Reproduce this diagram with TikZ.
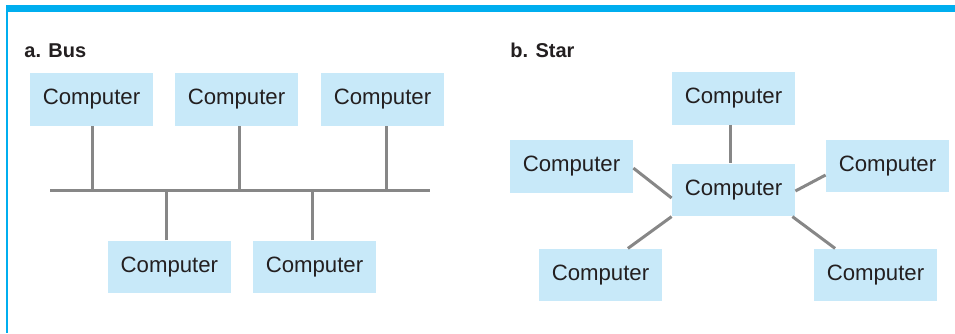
\documentclass[tikz,border=0pt]{standalone}
\usepackage{fontspec}
\setmainfont{Liberation Sans}
\usetikzlibrary{calc}
\definecolor{framecyan}{HTML}{00AEEF}
\definecolor{boxfill}{HTML}{C8E9F9}
\definecolor{linkgray}{HTML}{878787}
\definecolor{txt}{HTML}{231F20}
\tikzset{
  pc/.style={fill=boxfill, draw=none, inner sep=0pt, minimum width=61.5pt, minimum height=26.2pt,
    text=txt, font=\fontsize{11.1}{13}\selectfont},
  link/.style={draw=linkgray, line width=1.5pt},
  title/.style={anchor=base west, inner sep=0pt, text=txt, font=\fontsize{10}{12}\selectfont\bfseries},
}
\begin{document}
\begin{tikzpicture}[x=0.5pt, y=-0.5pt]
\useasboundingbox (0,0) rectangle (955,333);
% frame
\fill[framecyan] (6,5) rectangle (955,11.5);
\fill[framecyan] (6,5) rectangle (8,333);
% titles
\node[title] (ta) at (24,57.3) {a. Bus};
\node[title] (tb) at (510,57.3) {b. Star};
% bus network
\node[pc] (b1) at (91.5,99.4) {Computer};
\node[pc] (b2) at (236.5,99.4) {Computer};
\node[pc] (b3) at (382.5,99.4) {Computer};
\node[pc] (b4) at (169.4,267) {Computer};
\node[pc] (b5) at (314.5,267) {Computer};
\coordinate (busL) at (50,190.7);
\coordinate (busR) at (430,190.7);
\draw[link] (busL) -- (busR);
\draw[link] ([xshift=0.25pt]b1.south) -- ([xshift=0.25pt]b1.south |- busL);
\draw[link] ([xshift=1.4pt]b2.south) -- ([xshift=1.4pt]b2.south |- busL);
\draw[link] ([xshift=1.75pt]b3.south) -- ([xshift=1.75pt]b3.south |- busL);
\draw[link] ([xshift=-1.7pt]b4.north) -- ([xshift=-1.7pt]b4.north |- busL);
\draw[link] ([xshift=-1.25pt]b5.north) -- ([xshift=-1.25pt]b5.north |- busL);
% star network
\node[pc] (c) at (733.5,190) {Computer};
\node[pc] (st) at (733.5,98.3) {Computer};
\node[pc] (sl) at (571.5,166.3) {Computer};
\node[pc] (sr) at (887.5,166.2) {Computer};
\node[pc] (sbl) at (600.5,275) {Computer};
\node[pc] (sbr) at (875.5,275) {Computer};
\draw[link] ([xshift=-1.3pt]st.south) -- ([xshift=-1.3pt]c.north);
\draw[link] ([yshift=-0.9pt]sl.east) -- ([yshift=-4pt]c.west);
\draw[link] (c.south west) -- ([xshift=13.7pt]sbl.north);
\draw[link] ([yshift=-0.5pt]c.east) -- ([yshift=-4.4pt]sr.west);
\draw[link] ([xshift=-1.5pt]c.south east) -- ([xshift=-20.2pt]sbr.north);
\end{tikzpicture}
\end{document}
